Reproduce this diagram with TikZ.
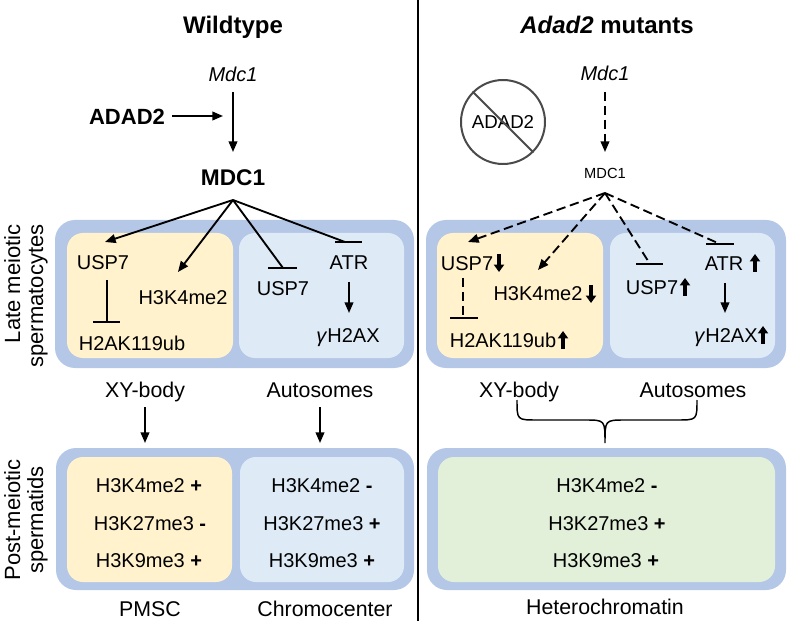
\documentclass[tikz,border=0pt]{standalone}
\usepackage{fontspec}
\setmainfont{Liberation Sans}
\usetikzlibrary{arrows.meta,calc}
\definecolor{outerblue}{HTML}{B4C7E7}
\definecolor{xyyellow}{HTML}{FFF2CC}
\definecolor{autoblue}{HTML}{DEEBF7}
\definecolor{hetgreen}{HTML}{E2F0D9}
\definecolor{circgray}{HTML}{4A4A4A}
\begin{document}
\begin{tikzpicture}[x=0.75pt,y=-0.75pt,
  every node/.style={inner sep=0pt},
  ttl/.style={font=\bfseries\fontsize{18}{21}\selectfont, text height=12.9pt, text depth=0pt},
  bigb/.style={font=\bfseries\fontsize{17}{20}\selectfont, text height=12.2pt, text depth=0pt},
  gene/.style={font=\itshape\fontsize{15}{18}\selectfont, text height=10.7pt, text depth=0pt},
  lbl/.style={font=\fontsize{15}{18}\selectfont, text height=10.7pt, text depth=0pt},
  cat/.style={font=\fontsize{16}{19}\selectfont, text height=11.5pt, text depth=0pt},
  side/.style={font=\fontsize{16.5}{17.3}\selectfont, rotate=90},
  arr/.style={line width=1.4pt, -{Triangle[length=8pt,width=6.5pt]}},
  inh/.style={line width=1.4pt},
  dsh/.style={dash pattern=on 7pt off 3.5pt},
  fat/.style={line width=2.3pt, -{Triangle[length=5.5pt,width=7.5pt]}},
  outerbox/.style={fill=outerblue, rounded corners=15pt},
  innerbox/.style={rounded corners=12pt}
]
\useasboundingbox (0,0) rectangle (789,627);

% ---------- boxes ----------
\fill[outerbox] (55,220) rectangle (414,368);
\fill[innerbox, fill=xyyellow] (67,233) rectangle (233,358);
\fill[innerbox, fill=autoblue] (239,233) rectangle (404,358);

\fill[outerbox] (56,448) rectangle (414,590);
\fill[innerbox, fill=xyyellow] (67,457) rectangle (232,582);
\fill[innerbox, fill=autoblue] (240,457) rectangle (404,582);

\fill[outerbox] (426,220) rectangle (786,368);
\fill[innerbox, fill=xyyellow] (437,233) rectangle (603,358);
\fill[innerbox, fill=autoblue] (610,233) rectangle (775,358);

\fill[outerbox] (427,448) rectangle (786,590);
\fill[innerbox, fill=hetgreen] (438,457) rectangle (775,582);

% ---------- divider ----------
\coordinate (divtop) at (418,0);
\coordinate (divbot) at (418,621);
\draw[line width=1.1pt] (divtop) -- (divbot);

% ---------- side labels ----------
\node[side, align=right] (lms) at (26,296) {Late meiotic\\spermatocytes};
\node[side, align=center] (pms) at (26,520) {Post-meiotic\\spermatids};

% ================= WILDTYPE =================
\node[ttl] (wt) at (233,25) {Wildtype};
\node[gene] (mdc1g) at (233,74) {Mdc1};
\node[bigb, font=\bfseries\fontsize{16.5}{20}\selectfont] (adad2) at (127,116) {ADAD2};
\node[bigb] (mdc1) at (233,177) {MDC1};
\coordinate (adtip) at (223,116);
\draw[arr] ($(mdc1g)+(0,18)$) -- ($(mdc1)+(0,-25)$);
\draw[arr] ($(adad2.east)+(7,0)$) -- (adtip);

\coordinate (brL) at ($(mdc1)+(0,23)$);

\node[lbl] (usp7a) at (103,262) {USP7};
\node[lbl] (h3k4a) at (183,297) {H3K4me2};
\node[lbl] (h2aka) at (132,343) {H2AK119ub};
\node[lbl] (usp7b) at (283,288) {USP7};
\node[lbl] (atra) at (349,262) {ATR};
\node[lbl] (gh2a) at (348,335) {\textit{γ}H2AX};

\draw[arr] (brL) -- ($(usp7a)+(2,-20)$);
\draw[arr] (brL) -- ($(h3k4a)+(-5,-25)$);
\draw[inh] (brL) -- ($(usp7b)+(0,-20)$);
\draw[inh] ($(usp7b)+(-15,-20)$) -- ($(usp7b)+(14,-20)$);
\draw[inh] (brL) -- ($(atra)+(-4,-20)$);
\draw[inh] ($(atra)+(-14,-20)$) -- ($(atra)+(13,-20)$);
\draw[inh] ($(usp7a)+(4,18)$) -- ($(h2aka)+(-25,-21)$);
\draw[inh] ($(h2aka)+(-39,-21)$) -- ($(h2aka)+(-12,-21)$);
\draw[arr] ($(atra)+(0,20)$) -- ($(gh2a)+(1,-22)$);

\node[cat] (xya) at (145,390) {XY-body};
\node[cat] (autoa) at (320,390) {Autosomes};
\draw[arr] ($(xya)+(0,17)$) -- ($(xya)+(0,53)$);
\draw[arr] ($(autoa)+(0,17)$) -- ($(autoa)+(0,53)$);

\node[lbl] (r1a) at (149,485) {H3K4me2 \textbf{+}};
\node[lbl] (r2a) at (150,523) {H3K27me3 \textbf{-}};
\node[lbl] (r3a) at (149,560) {H3K9me3 \textbf{+}};
\node[lbl] (r1b) at (322,485) {H3K4me2 \textbf{-}};
\node[lbl] (r2b) at (322,523) {H3K27me3 \textbf{+}};
\node[lbl] (r3b) at (322,560) {H3K9me3 \textbf{+}};
\node[cat] (pmsc) at (150,609) {PMSC};
\node[cat] (chromo) at (325,609) {Chromocenter};

% ================= MUTANTS =================
\node[ttl] (mt) at (607,25) {\textit{Adad2} mutants};
\node[gene] (mdc1g2) at (605,73) {Mdc1};
\node[circle, draw=circgray, line width=1.5pt, minimum size=63pt,
      font=\fontsize{14}{16}\selectfont] (nocirc) at (503,122) {ADAD2};
\draw[circgray, line width=1.5pt] (nocirc.135) -- (nocirc.-45);
\node[font=\fontsize{11}{13}\selectfont, text height=7.9pt, text depth=0pt] (mdc1s) at (605,173) {MDC1};
\draw[arr, dsh] ($(mdc1g2)+(0,19)$) -- ($(mdc1s)+(0,-21)$);

\coordinate (brR) at ($(mdc1s)+(0,20)$);

\node[lbl] (usp7c) at (467,263) {USP7};
\node[lbl] (h3k4c) at (538,293) {H3K4me2};
\node[lbl] (h2akc) at (503,340) {H2AK119ub};
\node[lbl] (usp7d) at (652,287) {USP7};
\node[lbl] (atrc) at (724,263) {ATR};
\node[lbl] (gh2c) at (726,335) {\textit{γ}H2AX};

\draw[arr, dsh] (brR) -- ($(usp7c)+(1,-21)$);
\draw[arr, dsh] (brR) -- ($(h3k4c)+(0,-23)$);
\draw[inh, dsh] (brR) -- ($(usp7d)+(-2,-23)$);
\draw[inh] ($(usp7d)+(-16,-23)$) -- ($(usp7d)+(11,-23)$);
\draw[inh, dsh] (brR) -- ($(atrc)+(-4,-19)$);
\draw[inh] ($(atrc)+(-18,-19)$) -- ($(atrc)+(10,-19)$);
\draw[inh, dsh] ($(usp7c)+(-4,15)$) -- ($(h2akc)+(-40,-22)$);
\draw[inh] ($(h2akc)+(-53,-22)$) -- ($(h2akc)+(-25,-22)$);
\draw[arr] ($(atrc)+(1,20)$) -- ($(gh2c)+(-1,-22)$);

% small up/down markers
\draw[fat] (499,254) -- (499,272);
\draw[fat] (591,285) -- (591,303);
\draw[fat] (563,349) -- (563,331);
\draw[fat] (685,296) -- (685,278);
\draw[fat] (755,272) -- (755,254);
\draw[fat] (763,344) -- (763,326);

\node[cat] (xyc) at (519,390) {XY-body};
\node[cat] (autoc) at (693,390) {Autosomes};

% brace
\coordinate (bL) at ($(xyc)+(-2,10)$);
\coordinate (bR) at ($(autoc)+(4,10)$);
\coordinate (bT) at (605,443);
\draw[line width=1.1pt] (bL) .. controls ($(bL)+(0,20)$) .. ($(bL)+(20,20)$)
  -- ($(bT)+(-20,-23)$) .. controls ($(bT)+(0,-23)$) .. (bT)
  .. controls ($(bT)+(0,-23)$) .. ($(bT)+(20,-23)$)
  -- ($(bR)+(-20,20)$) .. controls ($(bR)+(0,20)$) .. (bR);

\node[lbl] (r1c) at (607,485) {H3K4me2 \textbf{-}};
\node[lbl] (r2c) at (607,523) {H3K27me3 \textbf{+}};
\node[lbl] (r3c) at (606,560) {H3K9me3 \textbf{+}};
\node[cat] (hetero) at (605,607) {Heterochromatin};
\end{tikzpicture}
\end{document}
